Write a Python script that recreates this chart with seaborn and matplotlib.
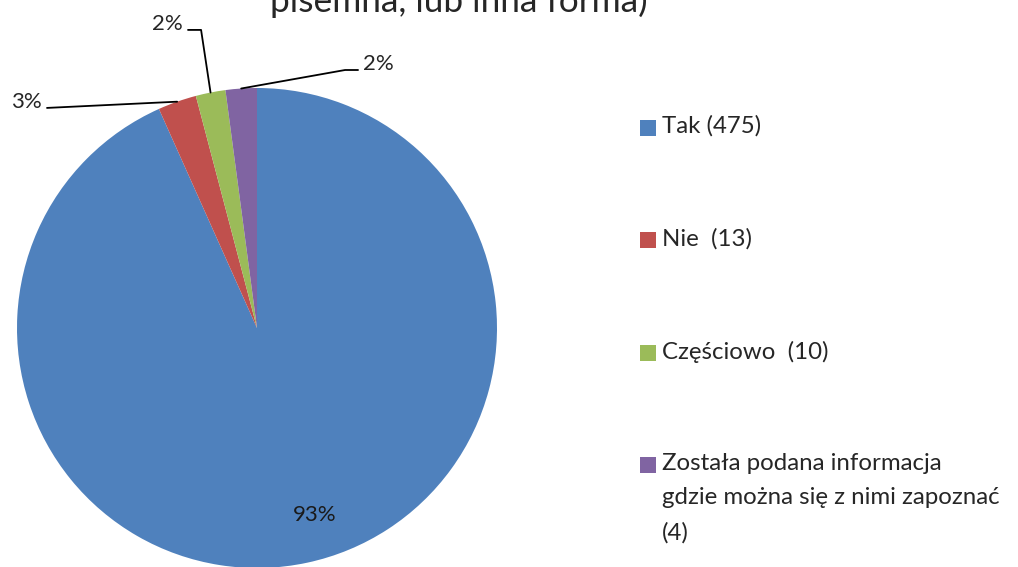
import matplotlib
import numpy as np
import seaborn as sns

matplotlib.use("Agg")
import matplotlib.pyplot as plt
from matplotlib.patches import Rectangle

categories = ["Tak", "Nie", "Częściowo", "Zostało podana informacja"]
legend_labels = [
    "Tak (475)",
    "Nie  (13)",
    "Częściowo  (10)",
    "Została podana informacja\ngdzie można się z nimi zapoznać\n(4)",
]
shares = [93.3, 2.6, 2.0, 2.1]
pct_labels = ["93%", "3%", "2%", "2%"]
colors = ["#4F81BD", "#C0504D", "#9BBB59", "#8064A2"]
title_line = "pisemna, lub inna forma)"

W, H = 1018, 567
FONT = ["Lato", "DejaVu Sans"]

sns.set_theme(style="white")
plt.rcParams["font.family"] = FONT

fig = plt.figure(figsize=(W / 100, H / 100), dpi=100)
# pie centre at pixel (257, 328), radius 240 px; axes spans +-1.3 units
r_px, cx, cy = 240, 257, 328
half = 1.3 * r_px
ax = fig.add_axes([(cx - half) / W, (H - cy - half) / H, 2 * half / W, 2 * half / H])

wedges, _ = ax.pie(
    shares,
    colors=sns.color_palette(colors),
    startangle=90,
    counterclock=False,
    wedgeprops={"linewidth": 0},
)
ax.set_xlim(-1.3, 1.3)
ax.set_ylim(-1.3, 1.3)
ax.axis("off")


def wedge_edge(w):
    ang = np.deg2rad((w.theta1 + w.theta2) / 2)
    return np.cos(ang), np.sin(ang)


fs = 16
lw = 1.3
# big slice label inside
ax.text(0.242, -0.779, pct_labels[0], ha="center", va="center", fontsize=fs, color="#1a1a1a")

# Nie: straight leader to the left
ex, ey = wedge_edge(wedges[1])
ax.plot([-0.875, ex], [0.917, ey], color="black", lw=lw, clip_on=False)
ax.text(-0.896, 0.917, pct_labels[1], ha="right", va="baseline", fontsize=fs, clip_on=False)

# Częściowo: bent leader up
ex, ey = wedge_edge(wedges[2])
ax.plot([-0.2875, -0.233, ex], [1.242, 1.242, ey], color="black", lw=lw, clip_on=False)
ax.text(-0.308, 1.242, pct_labels[2], ha="right", va="baseline", fontsize=fs, clip_on=False)

# Zostało: bent leader right
ex, ey = wedge_edge(wedges[3])
ax.plot([ex, 0.367, 0.421], [ey, 1.075, 1.075], color="black", lw=lw, clip_on=False)
ax.text(0.442, 1.075, pct_labels[3], ha="left", va="baseline", fontsize=fs, clip_on=False)

# title (only its last line is visible, the rest is cut at the top)
fig.text(459 / W, 1 - 12 / H, title_line, ha="center", va="baseline", fontsize=25.4)

# legend
leg_fs = 17.3
leg_y = [127.5, 240.5, 353, 465]
for lab, col, y in zip(legend_labels, colors, leg_y):
    fig.add_artist(Rectangle((640 / W, 1 - (y + 8) / H), 16 / W, 16 / H,
                             transform=fig.transFigure, color=col, lw=0))
    fig.text(662 / W, 1 - (y - 12) / H, lab, ha="left", va="top",
             fontsize=leg_fs, linespacing=1.78)

fig.savefig("out.png", dpi=100)
